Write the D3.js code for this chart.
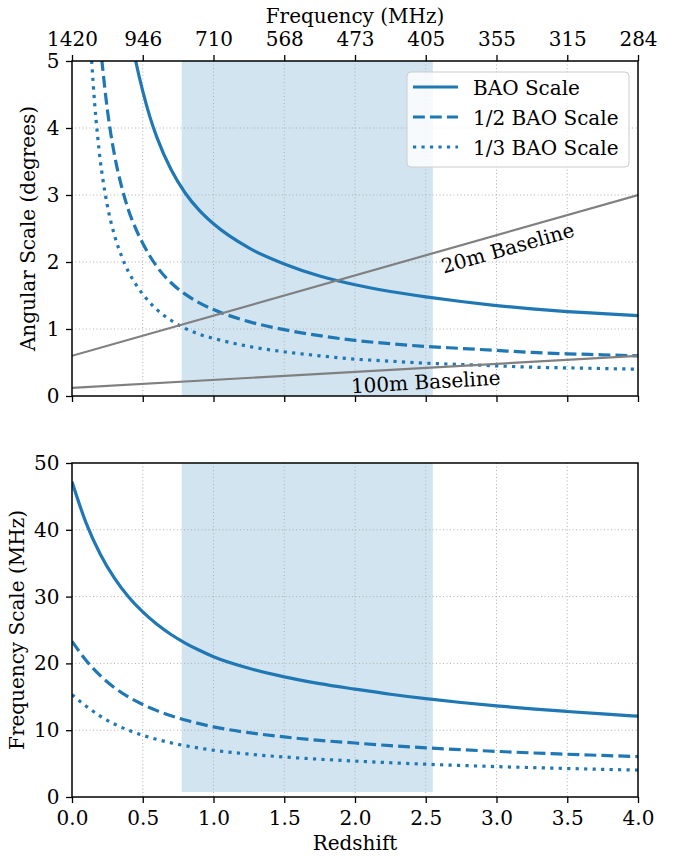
<!DOCTYPE html>
<html>
<head>
<meta charset="utf-8">
<script src="https://cdn.jsdelivr.net/npm/d3@7"></script>
<style>
  html, body { margin: 0; padding: 0; background: #fff; }
  svg { display: block; }
  text { font-family: "DejaVu Serif", serif; fill: #000; }
</style>
</head>
<body>
<svg id="chart" width="678" height="856"></svg>
<script>
// ── BAO angular / frequency scales vs redshift (two stacked panels) ──────────

const BLUE = "#1f77b4";
const GRAY = "#808080";

// shared axis ticks
const zTicks = [0, 0.5, 1, 1.5, 2, 2.5, 3, 3.5, 4];
const freqTickLabels = ["1420", "946", "710", "568", "473", "405", "355", "315", "284"];
const angTicks = [0, 1, 2, 3, 4, 5];
const freqTicks = [0, 10, 20, 30, 40, 50];

// shaded observing band (redshift)
const bandZ = [0.775, 2.55];
const bandFreqLow = 0.75;   // lower panel shading stops just above 0

// top panel: angular scale (degrees)
const zAngSolid = [0.44, 0.45, 0.5, 0.55, 0.6, 0.7, 0.8, 0.9, 1.0, 1.25, 1.5, 1.75, 2.0, 2.25, 2.5, 2.75, 3.0, 3.25, 3.5, 3.75, 4.0];
const angSolid  = [5.1, 5.0, 4.55, 4.17, 3.86, 3.38, 3.03, 2.77, 2.57, 2.21, 1.97, 1.79, 1.66, 1.56, 1.48, 1.41, 1.35, 1.30, 1.26, 1.23, 1.20];

const zAngHalf = [0.21, 0.25, 0.3, 0.35, 0.4, 0.45, 0.5, 0.6, 0.7, 0.8, 0.9, 1.0, 1.25, 1.5, 1.75, 2.0, 2.25, 2.5, 2.75, 3.0, 3.25, 3.5, 3.75, 4.0];
const angHalf  = [5.03, 4.27, 3.6, 3.13, 2.77, 2.5, 2.28, 1.93, 1.69, 1.52, 1.39, 1.29, 1.11, 0.99, 0.90, 0.83, 0.78, 0.74, 0.71, 0.68, 0.65, 0.63, 0.615, 0.60];

const zAngThird = [0.135, 0.14, 0.16, 0.18, 0.2, 0.22, 0.25, 0.3, 0.35, 0.4, 0.45, 0.5, 0.6, 0.7, 0.8, 0.9, 1.0, 1.25, 1.5, 1.75, 2.0, 2.25, 2.5, 2.75, 3.0, 3.25, 3.5, 3.75, 4.0];
const angThird  = [5.13, 4.97, 4.37, 3.9, 3.51, 3.21, 2.84, 2.4, 2.09, 1.85, 1.67, 1.52, 1.29, 1.13, 1.01, 0.92, 0.86, 0.74, 0.66, 0.60, 0.55, 0.52, 0.49, 0.47, 0.45, 0.43, 0.42, 0.41, 0.40];

// baselines (resolution lambda / D), straight lines
const zBaseline = [0, 4];
const base20m  = [0.6, 3.0];
const base100m = [0.12, 0.6];

// bottom panel: frequency scale (MHz)
const zFreq     = [0, 0.1, 0.2, 0.3, 0.4, 0.5, 0.6, 0.7, 0.8, 0.9, 1.0, 1.25, 1.5, 1.75, 2.0, 2.25, 2.5, 2.75, 3.0, 3.25, 3.5, 3.75, 4.0];
const freqSolid = [47.2, 41.0, 36.35, 32.75, 29.93, 27.7, 25.86, 24.33, 23.05, 21.96, 21.0, 19.27, 17.98, 16.97, 16.15, 15.38, 14.72, 14.15, 13.65, 13.2, 12.8, 12.43, 12.1];
const freqHalf  = [23.3, 20.45, 18.17, 16.37, 14.96, 13.85, 12.93, 12.17, 11.53, 10.98, 10.5, 9.63, 8.99, 8.48, 8.08, 7.69, 7.36, 7.08, 6.83, 6.6, 6.4, 6.22, 6.05];
const freqThird = [15.3, 13.6, 12.1, 10.92, 9.98, 9.23, 8.62, 8.11, 7.68, 7.32, 7.0, 6.42, 5.99, 5.66, 5.38, 5.13, 4.91, 4.72, 4.55, 4.4, 4.27, 4.14, 4.03];

const legendLabels = ["BAO Scale", "1/2 BAO Scale", "1/3 BAO Scale"];

// ── layout ──────────────────────────────────────────────────────────────────
const LW = 3.2;
const STYLES = [
  { dash: null },
  { dash: [3.7 * LW, 1.6 * LW].join(",") },
  { dash: [1 * LW, 1.65 * LW].join(",") },
];
const FS = 20;

const svg = d3.select("#chart");
const L = 72, R = 638;
const pTop = { y0: 61, y1: 396 };
const pBot = { y0: 463, y1: 797 };

const x  = d3.scaleLinear().domain([0, 4]).range([L, R]);
const yA = d3.scaleLinear().domain([0, 5]).range([pTop.y1, pTop.y0]);
const yF = d3.scaleLinear().domain([0, 50]).range([pBot.y1, pBot.y0]);

const defs = svg.append("defs");
[["clipTop", pTop], ["clipBot", pBot]].forEach(function ([id, p]) {
  defs.append("clipPath").attr("id", id)
    .append("rect").attr("x", L).attr("y", p.y0)
    .attr("width", R - L).attr("height", p.y1 - p.y0);
});

function seriesLine(y) {
  return d3.line().x(d => x(d[0])).y(d => y(d[1])).curve(d3.curveMonotoneX);
}
function zip(a, b) { return a.map((v, i) => [v, b[i]]); }

function gridLines(g, y, yTicks, p) {
  zTicks.slice(1, -1).forEach(function (t) {
    g.append("line").attr("x1", x(t)).attr("x2", x(t))
      .attr("y1", p.y0).attr("y2", p.y1);
  });
  yTicks.slice(1, -1).forEach(function (t) {
    g.append("line").attr("x1", L).attr("x2", R)
      .attr("y1", y(t)).attr("y2", y(t));
  });
  g.attr("stroke", "#b0b0b0").attr("stroke-width", 1)
   .attr("stroke-dasharray", "1,2.5");
}

function styleAxis(g) {
  g.select(".domain").remove();
  g.selectAll(".tick line").attr("stroke", "#000").attr("stroke-width", 1.3);
  g.selectAll(".tick text").attr("font-size", FS)
    .attr("font-family", "'DejaVu Serif', serif").attr("fill", "#000");
}

function spines(p) {
  svg.append("rect").attr("x", L).attr("y", p.y0)
    .attr("width", R - L).attr("height", p.y1 - p.y0)
    .attr("fill", "none").attr("stroke", "#000").attr("stroke-width", 1.5);
}

// ── top panel ───────────────────────────────────────────────────────────────
const gTop = svg.append("g").attr("clip-path", "url(#clipTop)");

gTop.append("rect")
  .attr("x", x(bandZ[0])).attr("width", x(bandZ[1]) - x(bandZ[0]))
  .attr("y", pTop.y0).attr("height", pTop.y1 - pTop.y0)
  .attr("fill", BLUE).attr("fill-opacity", 0.2);

gridLines(gTop.append("g"), yA, angTicks, pTop);

[[zAngSolid, angSolid], [zAngHalf, angHalf], [zAngThird, angThird]].forEach(function ([zs, vs], i) {
  gTop.append("path")
    .attr("d", seriesLine(yA)(zip(zs, vs)))
    .attr("fill", "none").attr("stroke", BLUE).attr("stroke-width", LW)
    .attr("stroke-dasharray", STYLES[i].dash);
});

[base20m, base100m].forEach(function (b) {
  gTop.append("path")
    .attr("d", d3.line().x(d => x(d[0])).y(d => yA(d[1]))(zip(zBaseline, b)))
    .attr("fill", "none").attr("stroke", GRAY).attr("stroke-width", 2.2);
});

function slopeDeg(b) {
  const dy = yA(b[1]) - yA(b[0]), dx = x(zBaseline[1]) - x(zBaseline[0]);
  return Math.atan2(dy, dx) * 180 / Math.PI;
}
svg.append("text")
  .attr("transform", `translate(${x(3.08)},${yA(2.21)}) rotate(${slopeDeg(base20m)})`)
  .attr("text-anchor", "middle").attr("dominant-baseline", "central")
  .attr("font-size", FS).text("20m Baseline");
svg.append("text")
  .attr("transform", `translate(${x(2.5)},${yA(0.21)}) rotate(${slopeDeg(base100m)})`)
  .attr("text-anchor", "middle").attr("dominant-baseline", "central")
  .attr("font-size", FS).text("100m Baseline");

// axes
svg.append("g").attr("transform", `translate(0,${pTop.y1})`)
  .call(d3.axisBottom(x).tickValues(zTicks).tickFormat("").tickSize(6))
  .call(styleAxis);
svg.append("g").attr("transform", `translate(0,${pTop.y0})`)
  .call(d3.axisTop(x).tickValues(zTicks).tickFormat((d, i) => freqTickLabels[i]).tickSize(6).tickPadding(9.5))
  .call(styleAxis);
svg.append("g").attr("transform", `translate(${L},0)`)
  .call(d3.axisLeft(yA).tickValues(angTicks).tickFormat(d3.format("d")).tickSize(6).tickPadding(6.5))
  .call(styleAxis);
spines(pTop);

svg.append("text").attr("x", (L + R) / 2).attr("y", 23)
  .attr("text-anchor", "middle").attr("font-size", FS).text("Frequency (MHz)");
svg.append("text")
  .attr("transform", `translate(35,${(pTop.y0 + pTop.y1) / 2}) rotate(-90)`)
  .attr("text-anchor", "middle").attr("font-size", FS).text("Angular Scale (degrees)");

// legend
const leg = svg.append("g").attr("transform", "translate(407,72)");
leg.append("rect").attr("width", 222).attr("height", 95).attr("rx", 4)
  .attr("fill", "#fff").attr("fill-opacity", 0.8)
  .attr("stroke", "#cccccc").attr("stroke-width", 1);
legendLabels.forEach(function (lab, i) {
  const cy = 15 + i * 30;
  leg.append("line").attr("x1", 6).attr("x2", 51).attr("y1", cy).attr("y2", cy)
    .attr("stroke", BLUE).attr("stroke-width", LW)
    .attr("stroke-dasharray", STYLES[i].dash);
  leg.append("text").attr("x", 66).attr("y", cy + 8)
    .attr("font-size", FS).text(lab);
});

// ── bottom panel ────────────────────────────────────────────────────────────
const gBot = svg.append("g").attr("clip-path", "url(#clipBot)");

gBot.append("rect")
  .attr("x", x(bandZ[0])).attr("width", x(bandZ[1]) - x(bandZ[0]))
  .attr("y", pBot.y0).attr("height", yF(bandFreqLow) - pBot.y0)
  .attr("fill", BLUE).attr("fill-opacity", 0.2);

gridLines(gBot.append("g"), yF, freqTicks, pBot);

[freqSolid, freqHalf, freqThird].forEach(function (vs, i) {
  gBot.append("path")
    .attr("d", seriesLine(yF)(zip(zFreq, vs)))
    .attr("fill", "none").attr("stroke", BLUE).attr("stroke-width", LW)
    .attr("stroke-dasharray", STYLES[i].dash);
});

svg.append("g").attr("transform", `translate(0,${pBot.y1})`)
  .call(d3.axisBottom(x).tickValues(zTicks).tickFormat(d3.format(".1f")).tickSize(6).tickPadding(7.8))
  .call(styleAxis);
svg.append("g").attr("transform", `translate(${L},0)`)
  .call(d3.axisLeft(yF).tickValues(freqTicks).tickFormat(d3.format("d")).tickSize(6).tickPadding(6.5))
  .call(styleAxis);
spines(pBot);

svg.append("text").attr("x", (L + R) / 2).attr("y", 850)
  .attr("text-anchor", "middle").attr("font-size", FS).text("Redshift");
svg.append("text")
  .attr("transform", `translate(24,${(pBot.y0 + pBot.y1) / 2}) rotate(-90)`)
  .attr("text-anchor", "middle").attr("font-size", FS).text("Frequency Scale (MHz)");
</script>
</body>
</html>
